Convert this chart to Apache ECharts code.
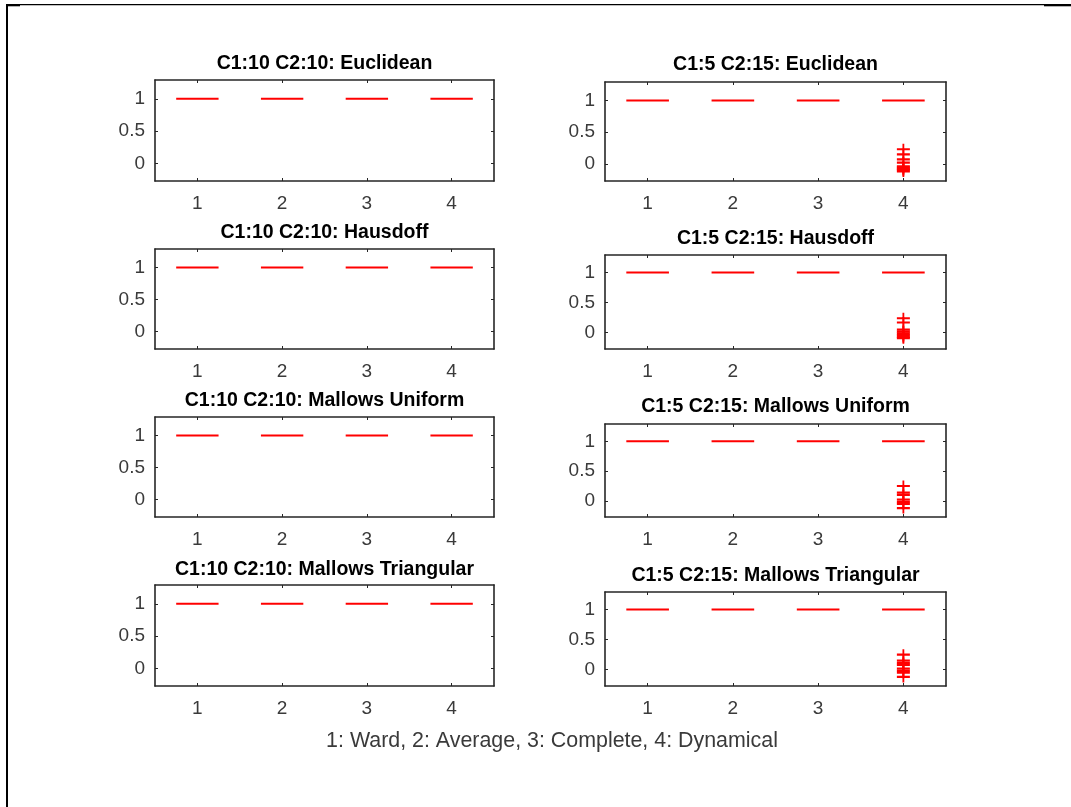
<!DOCTYPE html>
<html>
<head>
<meta charset="utf-8">
<script src="https://cdn.jsdelivr.net/npm/echarts@6/dist/echarts.min.js"></script>
<style>
html,body{margin:0;padding:0;background:#fff;}
#chart{width:1071px;height:807px;}
</style>
</head>
<body>
<div id="chart"></div>
<script>
// ---------- data ----------
const methods = [1, 2, 3, 4];
const xTickLabels = ['1', '2', '3', '4'];
const yTickValues = [0, 0.5, 1];
const footerLabel = '1: Ward, 2: Average, 3: Complete, 4: Dynamical';

const titlesLeft = ['C1:10 C2:10: Euclidean', 'C1:10 C2:10: Hausdoff', 'C1:10 C2:10: Mallows Uniform', 'C1:10 C2:10: Mallows Triangular'];
const titlesRight = ['C1:5 C2:15: Euclidean', 'C1:5 C2:15: Hausdoff', 'C1:5 C2:15: Mallows Uniform', 'C1:5 C2:15: Mallows Triangular'];

// medians of each method (box collapsed on the median)
const mediansL1 = [1, 1, 1, 1];
const mediansL2 = [1, 1, 1, 1];
const mediansL3 = [1, 1, 1, 1];
const mediansL4 = [1, 1, 1, 1];
const mediansR1 = [1, 1, 1, 1];
const mediansR2 = [1, 1, 1, 1];
const mediansR3 = [1, 1, 1, 1];
const mediansR4 = [1, 1, 1, 1];

// outliers of method 4 (Dynamical) in the right-hand panels
const outliersR1 = [0.23, 0.15, 0.07, 0.02, -0.04, -0.06, -0.08, -0.10, -0.12];
const outliersR2 = [0.24, 0.17, 0.05, 0.02, -0.01, -0.04, -0.07, -0.09];
const outliersR3 = [0.25, 0.14, 0.10, 0.02, -0.02, -0.05, -0.12];
const outliersR4 = [0.25, 0.15, 0.11, 0.08, 0.02, -0.02, -0.05, -0.12];
const outlierMethod = 4;

const yMin = -0.27, yMax = 1.29;
const xMin = 0.5, xMax = 4.5;

// ---------- layout ----------
const panels = [
  {rect: [155, 80, 339, 101], title: titlesLeft[0], ty: 64, med: mediansL1, out: null},
  {rect: [155, 249, 339, 100], title: titlesLeft[1], ty: 233, med: mediansL2, out: null},
  {rect: [155, 417, 339, 100], title: titlesLeft[2], ty: 401, med: mediansL3, out: null},
  {rect: [155, 585, 339, 101], title: titlesLeft[3], ty: 570, med: mediansL4, out: null},
  {rect: [605, 82, 341, 99], title: titlesRight[0], ty: 65, med: mediansR1, out: outliersR1},
  {rect: [605, 255, 341, 94], title: titlesRight[1], ty: 239, med: mediansR2, out: outliersR2},
  {rect: [605, 424, 341, 93], title: titlesRight[2], ty: 407, med: mediansR3, out: outliersR3},
  {rect: [605, 592, 341, 94], title: titlesRight[3], ty: 576, med: mediansR4, out: outliersR4}
];

const FONT = '"Liberation Sans", Arial, Helvetica, sans-serif';
const AX = '#262626';
const LBL = '#3a3a3a';
const RED = '#ff0000';
const frameLine = {show: true, onZero: false, lineStyle: {color: AX, width: 1.6}};

const grid = [], xAxis = [], yAxis = [], series = [], graphic = [];

panels.forEach((p, i) => {
  const [l, t, w, h] = p.rect;
  grid.push({left: l, top: t, width: w, height: h, containLabel: false});
  const xBase = {
    gridIndex: i, type: 'value', min: xMin, max: xMax,
    axisLine: frameLine, splitLine: {show: false},
    axisTick: {show: true, inside: true, length: 3, customValues: methods, lineStyle: {color: AX, width: 1}}
  };
  xAxis.push(Object.assign({}, xBase, {
    position: 'bottom',
    axisLabel: {show: true, customValues: methods, color: LBL, fontSize: 19, fontFamily: FONT, margin: 13,
      formatter: v => xTickLabels[methods.indexOf(v)]}
  }));
  xAxis.push(Object.assign({}, xBase, {position: 'top', axisLabel: {show: false}}));
  const yBase = {
    gridIndex: i, type: 'value', min: yMin, max: yMax,
    axisLine: frameLine, splitLine: {show: false},
    axisTick: {show: true, inside: true, length: 3, customValues: yTickValues, lineStyle: {color: AX, width: 1}}
  };
  yAxis.push(Object.assign({}, yBase, {
    position: 'left',
    axisLabel: {show: true, customValues: yTickValues, color: LBL, fontSize: 19, fontFamily: FONT, margin: 10}
  }));
  yAxis.push(Object.assign({}, yBase, {position: 'right', axisLabel: {show: false}}));

  series.push({
    type: 'custom', xAxisIndex: 2 * i, yAxisIndex: 2 * i,
    data: methods.map((m, k) => [m, p.med[k]]),
    renderItem: (params, api) => {
      const x = api.value(0), y = api.value(1);
      const a = api.coord([x - 0.25, y]);
      const b = api.coord([x + 0.25, y]);
      return {type: 'line', shape: {x1: a[0], y1: a[1], x2: b[0], y2: b[1]},
        style: {stroke: RED, lineWidth: 2}};
    },
    silent: true, animation: false
  });
  if (p.out) {
    series.push({
      type: 'scatter', xAxisIndex: 2 * i, yAxisIndex: 2 * i,
      data: p.out.map(v => [outlierMethod, v]),
      symbol: 'path://M0,4.4H5.6V0H7.4V4.4H13V6.6H7.4V11H5.6V6.6H0Z',
      symbolSize: [13, 11],
      itemStyle: {color: RED, opacity: 1},
      silent: true, animation: false
    });
  }
  graphic.push({
    type: 'text', x: l + w / 2, y: p.ty,
    style: {text: p.title, fill: '#000', font: 'bold 19.5px ' + FONT, textAlign: 'center', textVerticalAlign: 'middle'}
  });
});

graphic.push({
  type: 'text', x: 552, y: 741,
  style: {text: footerLabel, fill: LBL, font: '21.4px ' + FONT, textAlign: 'center', textVerticalAlign: 'middle'}
});
// page frame remnants
graphic.push({type: 'rect', shape: {x: 6, y: 4, width: 2, height: 803}, style: {fill: '#000'}});
graphic.push({type: 'rect', shape: {x: 6, y: 4, width: 1065, height: 1.3}, style: {fill: '#000'}});
graphic.push({type: 'rect', shape: {x: 6, y: 4, width: 14, height: 2.3}, style: {fill: '#000'}});
graphic.push({type: 'rect', shape: {x: 1044, y: 4, width: 27, height: 2.3}, style: {fill: '#000'}});

const chart = echarts.init(document.getElementById('chart'), null, {renderer: 'canvas'});
chart.setOption({
  backgroundColor: '#fff',
  animation: false,
  grid, xAxis, yAxis, series, graphic
});
</script>
</body>
</html>
